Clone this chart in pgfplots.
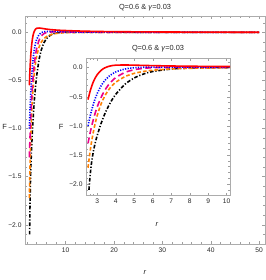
\documentclass[border=0pt]{standalone}
\usepackage{fontspec}
\setmainfont{Liberation Sans}
\usepackage{pgfplots}
\pgfplotsset{compat=1.18}
\usepackage{pgfplotstable}

\pgfplotstableread{
r F
2.5 -0.550
2.6 -0.420
2.7 -0.317
2.8 -0.235
2.9 -0.170
3.0 -0.120
3.2 -0.048
3.4 -0.005
3.6 0.020
3.8 0.035
4.0 0.042
4.5 0.045
5.0 0.042
5.5 0.038
6.0 0.034
7.0 0.028
8.0 0.024
9.0 0.021
10 0.019
12 0.015
15 0.011
20 0.007
30 0.004
40 0.002
50 0.001
}\redtab

\pgfplotstableread{
r F
2.5 -1.000
2.6 -0.851
2.7 -0.724
2.8 -0.615
2.9 -0.521
3.0 -0.442
3.2 -0.316
3.4 -0.224
3.6 -0.158
3.8 -0.109
4.0 -0.074
4.5 -0.024
5.0 -0.002
5.5 0.006
6.0 0.009
7.0 0.009
8.0 0.008
9.0 0.007
10 0.006
12 0.004
15 0.003
20 0.002
30 0.001
40 0.0005
50 0.0003
}\bluetab

\pgfplotstableread{
r F
2.5 -1.300
2.6 -1.140
2.7 -1.000
2.8 -0.876
2.9 -0.768
3.0 -0.672
3.2 -0.515
3.4 -0.393
3.6 -0.299
3.8 -0.227
4.0 -0.171
4.5 -0.082
5.0 -0.036
5.5 -0.013
6.0 -0.002
7.0 0.004
8.0 0.005
9.0 0.005
10 0.004
12 0.003
15 0.002
20 0.001
30 0.0005
40 0.0003
50 0.0002
}\magtab

\pgfplotstableread{
r F
2.5 -1.720
2.6 -1.467
2.7 -1.258
2.8 -1.085
2.9 -0.941
3.0 -0.819
3.2 -0.629
3.4 -0.491
3.6 -0.388
3.8 -0.310
4.0 -0.251
4.5 -0.154
5.0 -0.099
5.5 -0.066
6.0 -0.045
7.0 -0.023
8.0 -0.012
9.0 -0.007
10 -0.004
12 -0.001
15 0.000
20 0.0003
30 0.0003
40 0.0002
50 0.0001
}\orangetab

\pgfplotstableread{
r F
2.55 -2.100
2.6 -1.900
2.65 -1.740
2.7 -1.610
2.8 -1.420
2.9 -1.280
3.0 -1.162
3.2 -0.965
3.4 -0.800
3.6 -0.665
3.8 -0.552
4.0 -0.458
4.5 -0.286
5.0 -0.178
5.5 -0.110
6.0 -0.067
7.0 -0.024
8.0 -0.007
9.0 -0.001
10 0.001
12 0.001
15 0.001
20 0.0005
30 0.0003
40 0.0002
50 0.0001
}\blacktab

\definecolor{mmaorange}{rgb}{1,0.5,0}

\pgfplotsset{
  mma/.style={
    scale only axis,
    axis line style={gray!65, line width=0.5pt},
    every tick/.style={gray!75, line width=0.4pt},
    major tick length=3.2pt,
    minor tick length=1.8pt,
    tick label style={font=\fontsize{6.7}{7}\selectfont, text=black!85},
    label style={font=\fontsize{7.5}{8}\selectfont, text=black!85},
    title style={font=\fontsize{7.4}{8}\selectfont, text=black!85},
    axis background/.style={fill=white},
    ytick={-2,-1.5,-1,-0.5,0},
    yticklabels={−2.0,−1.5,−1.0,−0.5,0.0},
    minor ytick={-2.2,-2.1,-1.9,-1.8,-1.7,-1.6,-1.4,-1.3,-1.2,-1.1,-0.9,-0.8,-0.7,-0.6,-0.4,-0.3,-0.2,-0.1,0.1},
  },
  cred/.style={red, line width=1.6pt, smooth},
  cblue/.style={blue, line width=1.6pt, smooth, dash pattern=on 1.2pt off 1.4pt},
  cmag/.style={magenta, line width=1.6pt, smooth, dash pattern=on 6pt off 3.5pt},
  corange/.style={mmaorange, line width=1.6pt, smooth, dash pattern=on 3.6pt off 2.2pt},
  cblack/.style={black, line width=1.6pt, smooth, dash pattern=on 3.6pt off 1.8pt on 1.2pt off 1.8pt},
}

\begin{document}
\begin{tikzpicture}[x=1bp,y=1bp]
\useasboundingbox (0,0) rectangle (266,280);

\begin{axis}[mma,
  at={(25bp,36bp)}, anchor=south west,
  width=240bp, height=228bp,
  xmin=1.6, xmax=51.2, ymin=-2.2, ymax=0.17,
  xtick={10,20,30,40,50},
  xticklabels={10,20,30,40,50},
  minor xtick={2,4,6,8,12,14,16,18,22,24,26,28,32,34,36,38,42,44,46,48},
  title={Q=0.6 \& \textit{γ}=0.03},
  title style={at={(axis description cs:0.5,1.009)}, anchor=center},
  xlabel={\textit{r}},
  xlabel style={at={(axis description cs:0.5,-0.125)}, anchor=center},
  ylabel={F},
  ylabel style={at={(axis description cs:-0.085,0.513)}, anchor=center, rotate=-90},
]
\addplot[cblack] table[x=r,y=F] {\blacktab};
\addplot[corange] table[x=r,y=F] {\orangetab};
\addplot[cmag] table[x=r,y=F] {\magtab};
\addplot[cblue] table[x=r,y=F] {\bluetab};
\addplot[cred] table[x=r,y=F] {\redtab};
\end{axis}

\begin{axis}[mma,
  at={(86bp,84.3bp)}, anchor=south west,
  width=144bp, height=137.4bp,
  xmin=2.39, xmax=10.18, ymin=-2.2, ymax=0.16,
  xtick={3,4,5,6,7,8,9,10},
  xticklabels={3,4,5,6,7,8,9,10},
  minor x tick num=4,
  minor xtick={2.4,2.6,2.8},
  title={Q=0.6 \& \textit{γ}=0.03},
  title style={at={(axis description cs:0.5,1.029)}, anchor=center},
  xlabel={\textit{r}},
  xlabel style={at={(axis description cs:0.493,-0.208)}, anchor=center},
  ylabel={F},
  ylabel style={at={(axis description cs:-0.172,0.502)}, anchor=center, rotate=-90},
]
\addplot[cblack] table[x=r,y=F] {\blacktab};
\addplot[corange] table[x=r,y=F] {\orangetab};
\addplot[cmag] table[x=r,y=F] {\magtab};
\addplot[cblue] table[x=r,y=F] {\bluetab};
\addplot[cred] table[x=r,y=F] {\redtab};
\end{axis}
\end{tikzpicture}
\end{document}
